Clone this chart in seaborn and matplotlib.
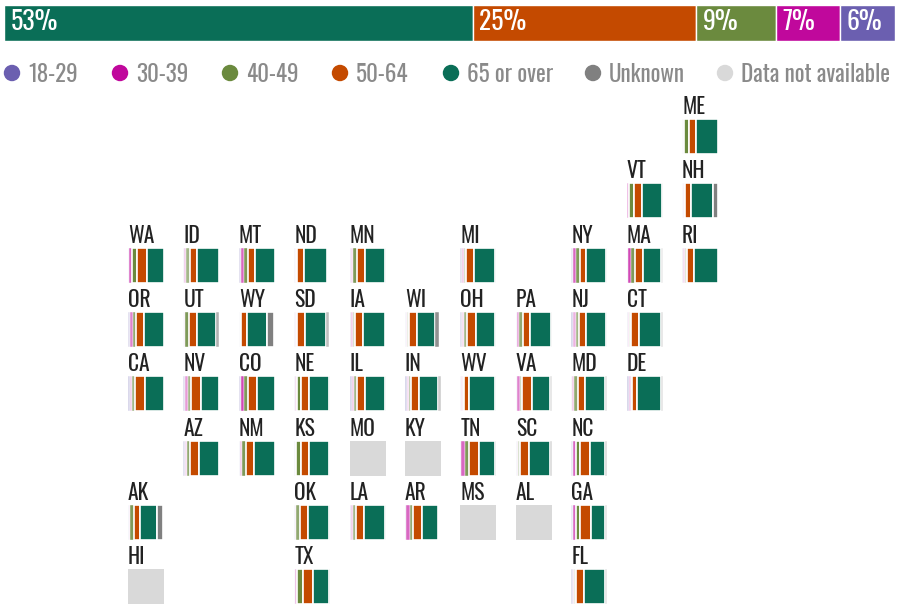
import matplotlib
matplotlib.use("Agg")
import matplotlib.pyplot as plt
from matplotlib.colors import to_rgb
import seaborn as sns
import pandas as pd

W, H = 900, 608
sns.set_theme(style="white")
plt.rcParams["font.family"] = ["Oswald", "Liberation Sans Narrow", "DejaVu Sans"]

# ---- data
age_groups = ["18-29", "30-39", "40-49", "50-64", "65 or over", "Unknown"]
colors = ["#6b5fb0", "#c0089c", "#6b8a3e", "#c44a00", "#0a6e57", "#808080"]
na_label = "Data not available"
na_color = "#d9d9d9"

overall_groups = ["65 or over", "50-64", "40-49", "30-39", "18-29"]
overall_values = [52.6, 25.1, 8.9, 7.2, 6.2]

# percent by age group, same order as age_groups
shares = {
    "ME": [2, 4, 13, 21, 60, 0], "VT": [2, 6, 12, 23, 54, 3], "NH": [2, 3, 3, 18, 59, 15],
    "WA": [3, 9, 13, 27, 48, 0], "ID": [3, 5, 9, 22, 61, 0], "MT": [5, 9, 11, 21, 54, 0],
    "ND": [3, 2, 2, 21, 64, 0], "MN": [5, 4, 11, 22, 55, 3], "MI": [5, 5, 6, 21, 60, 3],
    "NY": [4, 9, 11, 16, 57, 3], "MA": [3, 10, 11, 22, 50, 4], "RI": [4, 4, 5, 20, 67, 0],
    "OR": [5, 8, 10, 22, 55, 0], "UT": [2, 3, 11, 23, 52, 9], "WY": [2, 1, 2, 18, 56, 20],
    "SD": [3, 3, 3, 20, 60, 8], "IA": [5, 5, 6, 21, 60, 0], "WI": [3, 3, 4, 22, 51, 11],
    "OH": [5, 4, 9, 24, 55, 3], "PA": [3, 7, 10, 19, 58, 3], "NJ": [6, 6, 9, 21, 55, 3],
    "CT": [4, 4, 3, 24, 60, 5], "CA": [6, 5, 9, 27, 53, 0], "NV": [5, 7, 9, 27, 50, 2],
    "CO": [5, 10, 11, 24, 50, 0], "NE": [3, 4, 12, 23, 55, 3], "IL": [6, 5, 9, 23, 54, 3],
    "IN": [6, 4, 8, 22, 53, 7], "WV": [3, 3, 4, 13, 74, 3], "VA": [3, 8, 7, 27, 50, 5],
    "MD": [3, 5, 10, 21, 56, 5], "DE": [6, 5, 5, 14, 65, 5], "AZ": [5, 4, 10, 24, 55, 2],
    "NM": [3, 5, 11, 23, 58, 0], "KS": [3, 3, 12, 24, 56, 2], "TN": [3, 9, 11, 28, 44, 5],
    "SC": [3, 3, 6, 24, 58, 6], "NC": [4, 9, 12, 28, 41, 6], "AK": [3, 3, 11, 17, 47, 17],
    "OK": [3, 3, 10, 21, 60, 3], "LA": [5, 5, 9, 21, 57, 3], "AR": [4, 9, 10, 23, 47, 0],
    "GA": [4, 9, 12, 30, 40, 5], "TX": [2, 6, 16, 27, 45, 4], "FL": [5, 4, 4, 23, 59, 5],
}
no_data = ["MO", "KY", "MS", "AL", "HI"]

# tile-grid position of each state (column, row)
grid = {
    "ME": (10, 0), "VT": (9, 1), "NH": (10, 1),
    "WA": (0, 2), "ID": (1, 2), "MT": (2, 2), "ND": (3, 2), "MN": (4, 2), "MI": (6, 2),
    "NY": (8, 2), "MA": (9, 2), "RI": (10, 2),
    "OR": (0, 3), "UT": (1, 3), "WY": (2, 3), "SD": (3, 3), "IA": (4, 3), "WI": (5, 3),
    "OH": (6, 3), "PA": (7, 3), "NJ": (8, 3), "CT": (9, 3),
    "CA": (0, 4), "NV": (1, 4), "CO": (2, 4), "NE": (3, 4), "IL": (4, 4), "IN": (5, 4),
    "WV": (6, 4), "VA": (7, 4), "MD": (8, 4), "DE": (9, 4),
    "AZ": (1, 5), "NM": (2, 5), "KS": (3, 5), "MO": (4, 5), "KY": (5, 5), "TN": (6, 5),
    "SC": (7, 5), "NC": (8, 5),
    "AK": (0, 6), "OK": (3, 6), "LA": (4, 6), "AR": (5, 6), "MS": (6, 6), "AL": (7, 6),
    "GA": (8, 6),
    "HI": (0, 7), "TX": (3, 7), "FL": (8, 7),
}

fig = plt.figure(figsize=(W / 100, H / 100), dpi=100, facecolor="white")
color_of = dict(zip(age_groups, colors))


def add_axes_px(x0, y0, w, h):
    return fig.add_axes([x0 / W, 1 - (y0 + h) / H, w / W, h / H])


def tint(hex_color, strength):
    r, g, b = to_rgb(hex_color)
    return (1 - strength * (1 - r), 1 - strength * (1 - g), 1 - strength * (1 - b))


def stacked(ax, labels, values, lw=1.2, fade_below=12.0):
    frame = pd.DataFrame({"group": labels, "share": values})
    frame["start"] = frame["share"].cumsum().shift(fill_value=0)
    for rec in frame[frame["share"] > 0].itertuples():
        narrow = rec.share < fade_below
        strength = (rec.share / fade_below) ** 1.7 if narrow else 1.0
        sns.barplot(x=[rec.share], y=[0], orient="h", left=rec.start, width=1.0,
                    color=tint(color_of[rec.group], strength), saturation=1,
                    edgecolor="white", linewidth=0.3 if narrow else lw, ax=ax)
    ax.set_xlim(0, 100)
    ax.set_ylim(-0.5, 0.5)
    ax.axis("off")


# overall bar
top = add_axes_px(4, 5, 891, 36)
stacked(top, overall_groups, overall_values, lw=1.0, fade_below=0)
pos = 0
for v in overall_values:
    top.text(pos + 0.75, 0.03, f"{v:.0f}%", color="white", fontsize=18.5, va="center", ha="left")
    pos += v

# overlay in pixel units for legend and state labels
over = fig.add_axes([0, 0, 1, 1], zorder=5)
over.set_xlim(0, W)
over.set_ylim(H, 0)
over.axis("off")
over.patch.set_alpha(0)

leg_labels = age_groups + [na_label]
leg_colors = colors + [na_color]
leg_x = [12, 120, 230, 340, 451, 593, 725]
sns.scatterplot(x=leg_x, y=[73] * 7, hue=leg_labels, palette=dict(zip(leg_labels, leg_colors)),
                s=140, linewidth=0, legend=False, ax=over)
for x, t in zip(leg_x, leg_labels):
    over.text(x + 16, 74, t, color="#8a8a8a", fontsize=16.6, va="center", ha="left")

# state tiles
for st, (c, r) in grid.items():
    x0 = 128 + 55.4 * c
    y0 = 119 + 64.3 * r
    ax = add_axes_px(x0, y0, 36, 35)
    if st in no_data:
        ax.set_facecolor(na_color)
        ax.set_xticks([])
        ax.set_yticks([])
        sns.despine(ax=ax, left=True, bottom=True)
    else:
        stacked(ax, age_groups, shares[st])
    over.text(x0, y0 - 5, st, color="#222222", fontsize=15.5, va="baseline", ha="left")

fig.savefig("out.png", dpi=100)
